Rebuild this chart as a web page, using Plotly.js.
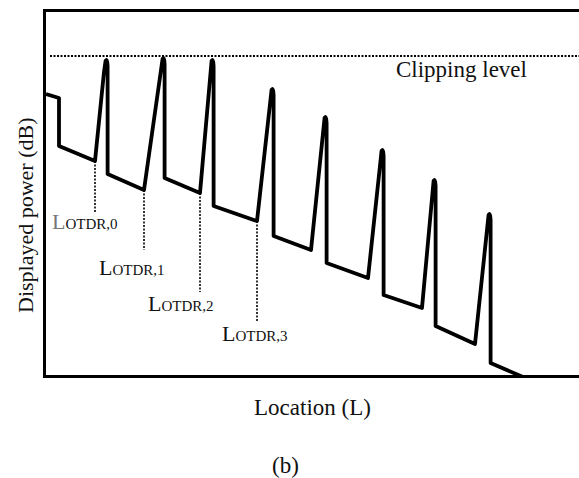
<!DOCTYPE html>
<html>
<head>
<meta charset="utf-8">
<script src="https://cdn.plot.ly/plotly-3.0.1.min.js"></script>
<style>
html,body{margin:0;padding:0;background:#fff;}
#chart{width:579px;height:478px;}
#chart .trace.scatter:last-of-type path.js-line{stroke-linejoin:round;}
</style>
</head>
<body>
<div id="chart"></div>
<script>
// OTDR trace (arbitrary units)
const traceX = [2, 15, 15, 51,
  60, 60.8, 61.6, 62.4, 63.2, 63.6, 63.6, 100,
  117, 117.8, 118.6, 119.4, 120.2, 120.6, 120.6, 156,
  166, 166.8, 167.6, 168.4, 169.2, 169.6, 169.6, 213,
  226, 226.8, 227.6, 228.4, 229.2, 229.6, 229.6, 267,
  279, 279.8, 280.6, 281.4, 282.2, 282.6, 282.6, 324,
  336, 336.8, 337.6, 338.4, 339.2, 339.6, 339.6, 378,
  388, 388.8, 389.6, 390.4, 391.2, 391.6, 391.6, 431,
  443, 443.8, 444.6, 445.4, 446.2, 446.6, 446.6, 479];
const traceY = [283, 279, 231, 216,
  305, 313, 316.2, 317, 315, 311, 203, 187,
  307, 315, 318.2, 319, 317, 313, 199, 184,
  305, 313, 316.2, 317, 315, 311, 171, 156,
  276, 284, 287.2, 288, 286, 282, 141, 127,
  248, 256, 259.2, 260, 258, 254, 114, 99,
  215, 223, 226.2, 227, 225, 221, 82, 69,
  185, 193, 196.2, 197, 195, 191, 51, 33,
  151, 159, 162.2, 163, 161, 157, 14, 0];

// clipping level
const clippingLevel = 321;
const clippingX = [6, 535];
const clippingText = 'Clipping level';

// L_OTDR markers
const markerX = [51, 100, 156, 213];
const markerTop = [216, 187, 184, 156];
const markerBottom = [164, 127, 85, 55];
const markerIdx = ['0', '1', '2', '3'];
const labelX = [6, 53, 102, 176];
const labelY = [156, 110, 74, 44];

const xTitle = 'Location (L)';
const yTitle = 'Displayed power (dB)';
const caption = '(b)';

const serif = 'Liberation Serif, Times New Roman, serif';

const traces = [];
for (let i = 0; i < markerX.length; i++) {
  traces.push({
    x: [markerX[i], markerX[i]],
    y: [markerTop[i], markerBottom[i]],
    mode: 'lines',
    line: {color: '#333', width: 2, dash: '2px,1.5px'},
    hoverinfo: 'skip', showlegend: false
  });
}
traces.push({
  x: clippingX,
  y: [clippingLevel, clippingLevel],
  mode: 'lines',
  line: {color: '#000', width: 2, dash: '2px,1.5px'},
  hoverinfo: 'skip', showlegend: false
});
traces.push({
  x: traceX, y: traceY,
  mode: 'lines',
  line: {color: '#000', width: 3.8, shape: 'linear'},
  hoverinfo: 'skip', showlegend: false
});

const annotations = [];
for (let i = 0; i < markerX.length; i++) {
  annotations.push({
    x: labelX[i], y: labelY[i], xref: 'x', yref: 'y',
    xanchor: 'left', yanchor: 'middle', showarrow: false,
    text: '<span style="color:' + (i === 0 ? '#777' : '#111') + '">L</span><span style="font-size:15px">OTDR,' + markerIdx[i] + '</span>',
    font: {family: serif, size: 22, color: '#111'}
  });
}
annotations.push({
  x: 417, y: 308, xref: 'x', yref: 'y', xanchor: 'center', yanchor: 'middle',
  showarrow: false, text: clippingText,
  font: {family: serif, size: 23, color: '#111'}
});
// y title (placed off-centre as in the original)
annotations.push({
  x: (25 - 46) / 533, y: (375 - 215) / 363, xref: 'paper', yref: 'paper',
  xanchor: 'center', yanchor: 'middle', showarrow: false, textangle: -90,
  text: yTitle, font: {family: serif, size: 22, color: '#111'}
});
annotations.push({
  x: (285 - 46) / 533, y: (375 - 465) / 363, xref: 'paper', yref: 'paper',
  xanchor: 'center', yanchor: 'middle', showarrow: false,
  text: caption, font: {family: serif, size: 23, color: '#111'}
});

const layout = {
  width: 579, height: 478,
  margin: {l: 46, r: 0, t: 12, b: 103},
  paper_bgcolor: '#fff', plot_bgcolor: '#fff',
  showlegend: false,
  xaxis: {
    range: [2, 535], showgrid: false, zeroline: false, showticklabels: false, ticks: '',
    showline: true, linecolor: '#000', linewidth: 3, mirror: true, fixedrange: true,
    title: {text: xTitle, font: {family: serif, size: 23, color: '#111'}, standoff: 22}
  },
  yaxis: {
    range: [2, 365], showgrid: false, zeroline: false, showticklabels: false, ticks: '',
    showline: true, linecolor: '#000', linewidth: 3, mirror: false, fixedrange: true
  },
  annotations: annotations
};

Plotly.newPlot('chart', traces, layout, {staticPlot: true, displayModeBar: false}).then(function () {
  document.querySelectorAll('#chart path.js-line').forEach(function (p) {
    p.style.strokeLinejoin = 'round';
  });
});
</script>
</body>
</html>
